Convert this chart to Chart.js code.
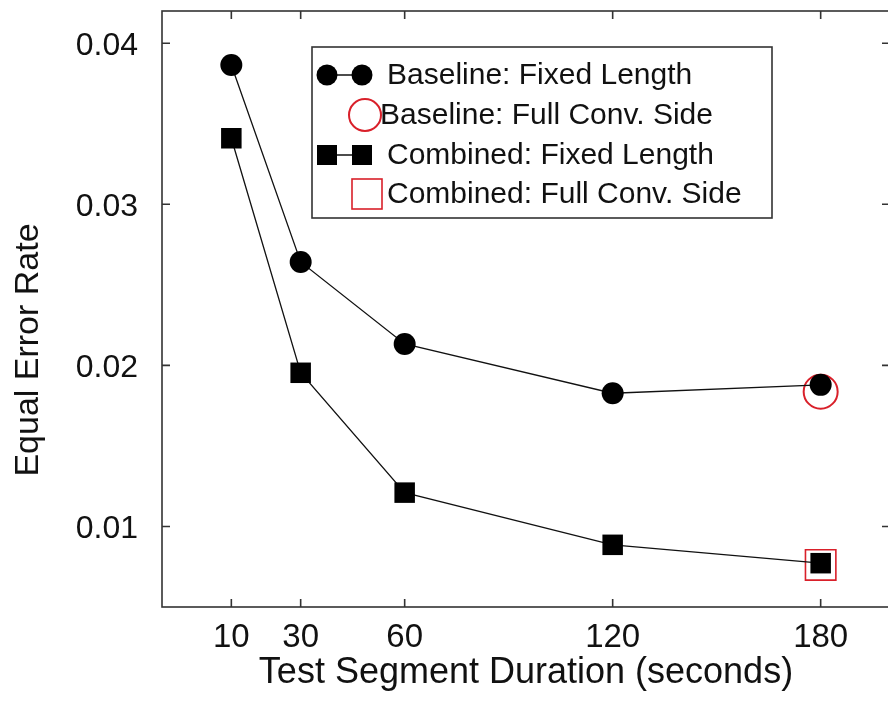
<!DOCTYPE html>
<html>
<head>
<meta charset="utf-8">
<script src="https://cdn.jsdelivr.net/npm/chart.js@4"></script>
<style>
  html, body { margin: 0; padding: 0; background: #fff; overflow: hidden; }
  #wrap { width: 890px; height: 701px; position: relative; }
</style>
</head>
<body>
<div id="wrap"><canvas id="eer-chart"></canvas></div>
<script>
// values
const durations = [10, 30, 60, 120, 180];
const baselineFixed = [0.03865, 0.02642, 0.02133, 0.01827, 0.01879];
const combinedFixed = [0.0341, 0.01954, 0.0121, 0.00886, 0.00772];
const fullConvDuration = [180];
const baselineFullConv = [0.01837];
const combinedFullConv = [0.00761];

const xTickValues = [10, 30, 60, 120, 180];
const yTickValues = [0.01, 0.02, 0.03, 0.04];
const seriesLabels = [
  'Baseline: Fixed Length',
  'Baseline: Full Conv. Side',
  'Combined: Fixed Length',
  'Combined: Full Conv. Side',
];

const FONT = '"Liberation Sans", Arial, Helvetica, sans-serif';
const INK = '#111';
const FRAME = '#333';
const RED = '#d9202a';

const toPoints = (xs, ys) => ys.map((y, i) => ({ x: xs[i], y }));

// chart.js adds label padding round the plot; the layout here is fixed
function noScalePadding(scale) {
  scale.paddingTop = 0;
  scale.paddingBottom = 0;
  scale.paddingLeft = 0;
  scale.paddingRight = 0;
}

// box round the plot with inward ticks on all four sides
const framePlugin = {
  id: 'frame',
  afterDatasetsDraw(chart) {
    const { ctx, chartArea: a, scales } = chart;
    const tick = 8;
    ctx.save();
    ctx.strokeStyle = FRAME;
    ctx.lineWidth = 1.6;
    ctx.strokeRect(a.left, a.top, a.right - a.left, a.bottom - a.top);
    ctx.beginPath();
    xTickValues.forEach((v) => {
      const px = scales.x.getPixelForValue(v);
      ctx.moveTo(px, a.bottom); ctx.lineTo(px, a.bottom - tick);
      ctx.moveTo(px, a.top); ctx.lineTo(px, a.top + tick);
    });
    yTickValues.forEach((v) => {
      const py = scales.y.getPixelForValue(v);
      ctx.moveTo(a.left, py); ctx.lineTo(a.left + tick, py);
      ctx.moveTo(a.right, py); ctx.lineTo(a.right - tick, py);
    });
    ctx.stroke();
    ctx.restore();
  },
};

// y title sits lower than the plot centre in the reference, so draw it here
const yTitlePlugin = {
  id: 'yTitle',
  afterDraw(chart) {
    const { ctx } = chart;
    ctx.save();
    ctx.translate(29, 350);
    ctx.rotate(-Math.PI / 2);
    ctx.font = `34px ${FONT}`;
    ctx.fillStyle = INK;
    ctx.textAlign = 'center';
    ctx.textBaseline = 'middle';
    ctx.fillText('Equal Error Rate', 0, 0);
    ctx.restore();
  },
};

// boxed legend inside the plot, like the original figure
const legendPlugin = {
  id: 'boxLegend',
  afterDraw(chart) {
    const { ctx } = chart;
    const box = { left: 312, top: 47, right: 772, bottom: 218 };
    const rows = [75, 115, 155, 194];
    ctx.save();
    ctx.fillStyle = '#fff';
    ctx.fillRect(box.left, box.top, box.right - box.left, box.bottom - box.top);
    ctx.strokeStyle = FRAME;
    ctx.lineWidth = 1.6;
    ctx.strokeRect(box.left, box.top, box.right - box.left, box.bottom - box.top);

    // row 1: circle-line-circle
    ctx.strokeStyle = INK;
    ctx.lineWidth = 1.3;
    ctx.beginPath();
    ctx.moveTo(327, rows[0]); ctx.lineTo(362, rows[0]);
    ctx.stroke();
    ctx.fillStyle = '#000';
    [327, 362].forEach((cx) => {
      ctx.beginPath();
      ctx.arc(cx, rows[0], 10.5, 0, Math.PI * 2);
      ctx.fill();
    });

    // row 2: open red circle
    ctx.strokeStyle = RED;
    ctx.lineWidth = 2;
    ctx.beginPath();
    ctx.arc(365, rows[1], 16, 0, Math.PI * 2);
    ctx.stroke();

    // row 3: square-line-square
    ctx.strokeStyle = INK;
    ctx.lineWidth = 1.3;
    ctx.beginPath();
    ctx.moveTo(327, rows[2]); ctx.lineTo(362, rows[2]);
    ctx.stroke();
    [327, 362].forEach((cx) => {
      ctx.fillRect(cx - 10, rows[2] - 10, 20, 20);
    });

    // row 4: open red square
    ctx.strokeStyle = RED;
    ctx.lineWidth = 1.6;
    ctx.strokeRect(352, rows[3] - 15, 30, 30);

    ctx.font = `30px ${FONT}`;
    ctx.fillStyle = INK;
    ctx.textBaseline = 'middle';
    const textX = [387, 380, 387, 387];
    chart.data.datasets.forEach((ds, i) => {
      ctx.fillText(ds.label, textX[i], rows[i] + 1);
    });
    ctx.restore();
  },
};

const chart = new Chart(document.getElementById('eer-chart'), {
  type: 'scatter',
  data: {
    datasets: [
      {
        label: seriesLabels[0],
        data: toPoints(durations, baselineFixed),
        showLine: true,
        borderColor: INK,
        borderWidth: 1.3,
        pointStyle: 'circle',
        pointRadius: 11,
        pointBackgroundColor: '#000',
        pointBorderColor: '#000',
        pointBorderWidth: 0,
        order: 1,
      },
      {
        label: seriesLabels[1],
        data: toPoints(fullConvDuration, baselineFullConv),
        showLine: false,
        pointStyle: 'circle',
        pointRadius: 17,
        pointBackgroundColor: 'rgba(0,0,0,0)',
        pointBorderColor: RED,
        pointBorderWidth: 2,
        order: 3,
      },
      {
        label: seriesLabels[2],
        data: toPoints(durations, combinedFixed),
        showLine: true,
        borderColor: INK,
        borderWidth: 1.3,
        pointStyle: 'rect',
        pointRadius: 14.5,
        pointBackgroundColor: '#000',
        pointBorderColor: '#000',
        pointBorderWidth: 0,
        order: 2,
      },
      {
        label: seriesLabels[3],
        data: toPoints(fullConvDuration, combinedFullConv),
        showLine: false,
        pointStyle: 'rect',
        pointRadius: 21.5,
        pointBackgroundColor: 'rgba(0,0,0,0)',
        pointBorderColor: RED,
        pointBorderWidth: 1.6,
        order: 4,
      },
    ],
  },
  options: {
    responsive: true,
    maintainAspectRatio: false,
    animation: false,
    layout: { autoPadding: false, padding: { top: 11, right: 0, bottom: 0, left: 0 } },
    plugins: {
      legend: { display: false },
      tooltip: { enabled: false },
    },
    scales: {
      x: {
        type: 'linear',
        min: -10,
        max: 200,
        afterBuildTicks(scale) {
          scale.ticks = xTickValues.map((value) => ({ value }));
        },
        afterFit(scale) {
          scale.height = 94;
          noScalePadding(scale);
        },
        ticks: {
          color: INK,
          font: { family: FONT, size: 33 },
          padding: 11,
          maxRotation: 0,
          autoSkip: false,
          callback: (value) => String(value),
        },
        grid: { display: false, drawTicks: false },
        border: { display: false },
        title: {
          display: true,
          text: 'Test Segment Duration (seconds)',
          color: INK,
          font: { family: FONT, size: 36 },
          padding: { top: 0, bottom: 6 },
        },
      },
      y: {
        type: 'linear',
        min: 0.005,
        max: 0.042,
        afterBuildTicks(scale) {
          scale.ticks = yTickValues.map((value) => ({ value }));
        },
        afterFit(scale) {
          scale.width = 162;
          noScalePadding(scale);
        },
        ticks: {
          color: INK,
          font: { family: FONT, size: 32 },
          padding: 24,
          labelOffset: 3,
          autoSkip: false,
          callback: (value) => value.toFixed(2),
        },
        grid: { display: false, drawTicks: false },
        border: { display: false },
      },
    },
  },
  plugins: [framePlugin, yTitlePlugin, legendPlugin],
});
</script>
</body>
</html>
